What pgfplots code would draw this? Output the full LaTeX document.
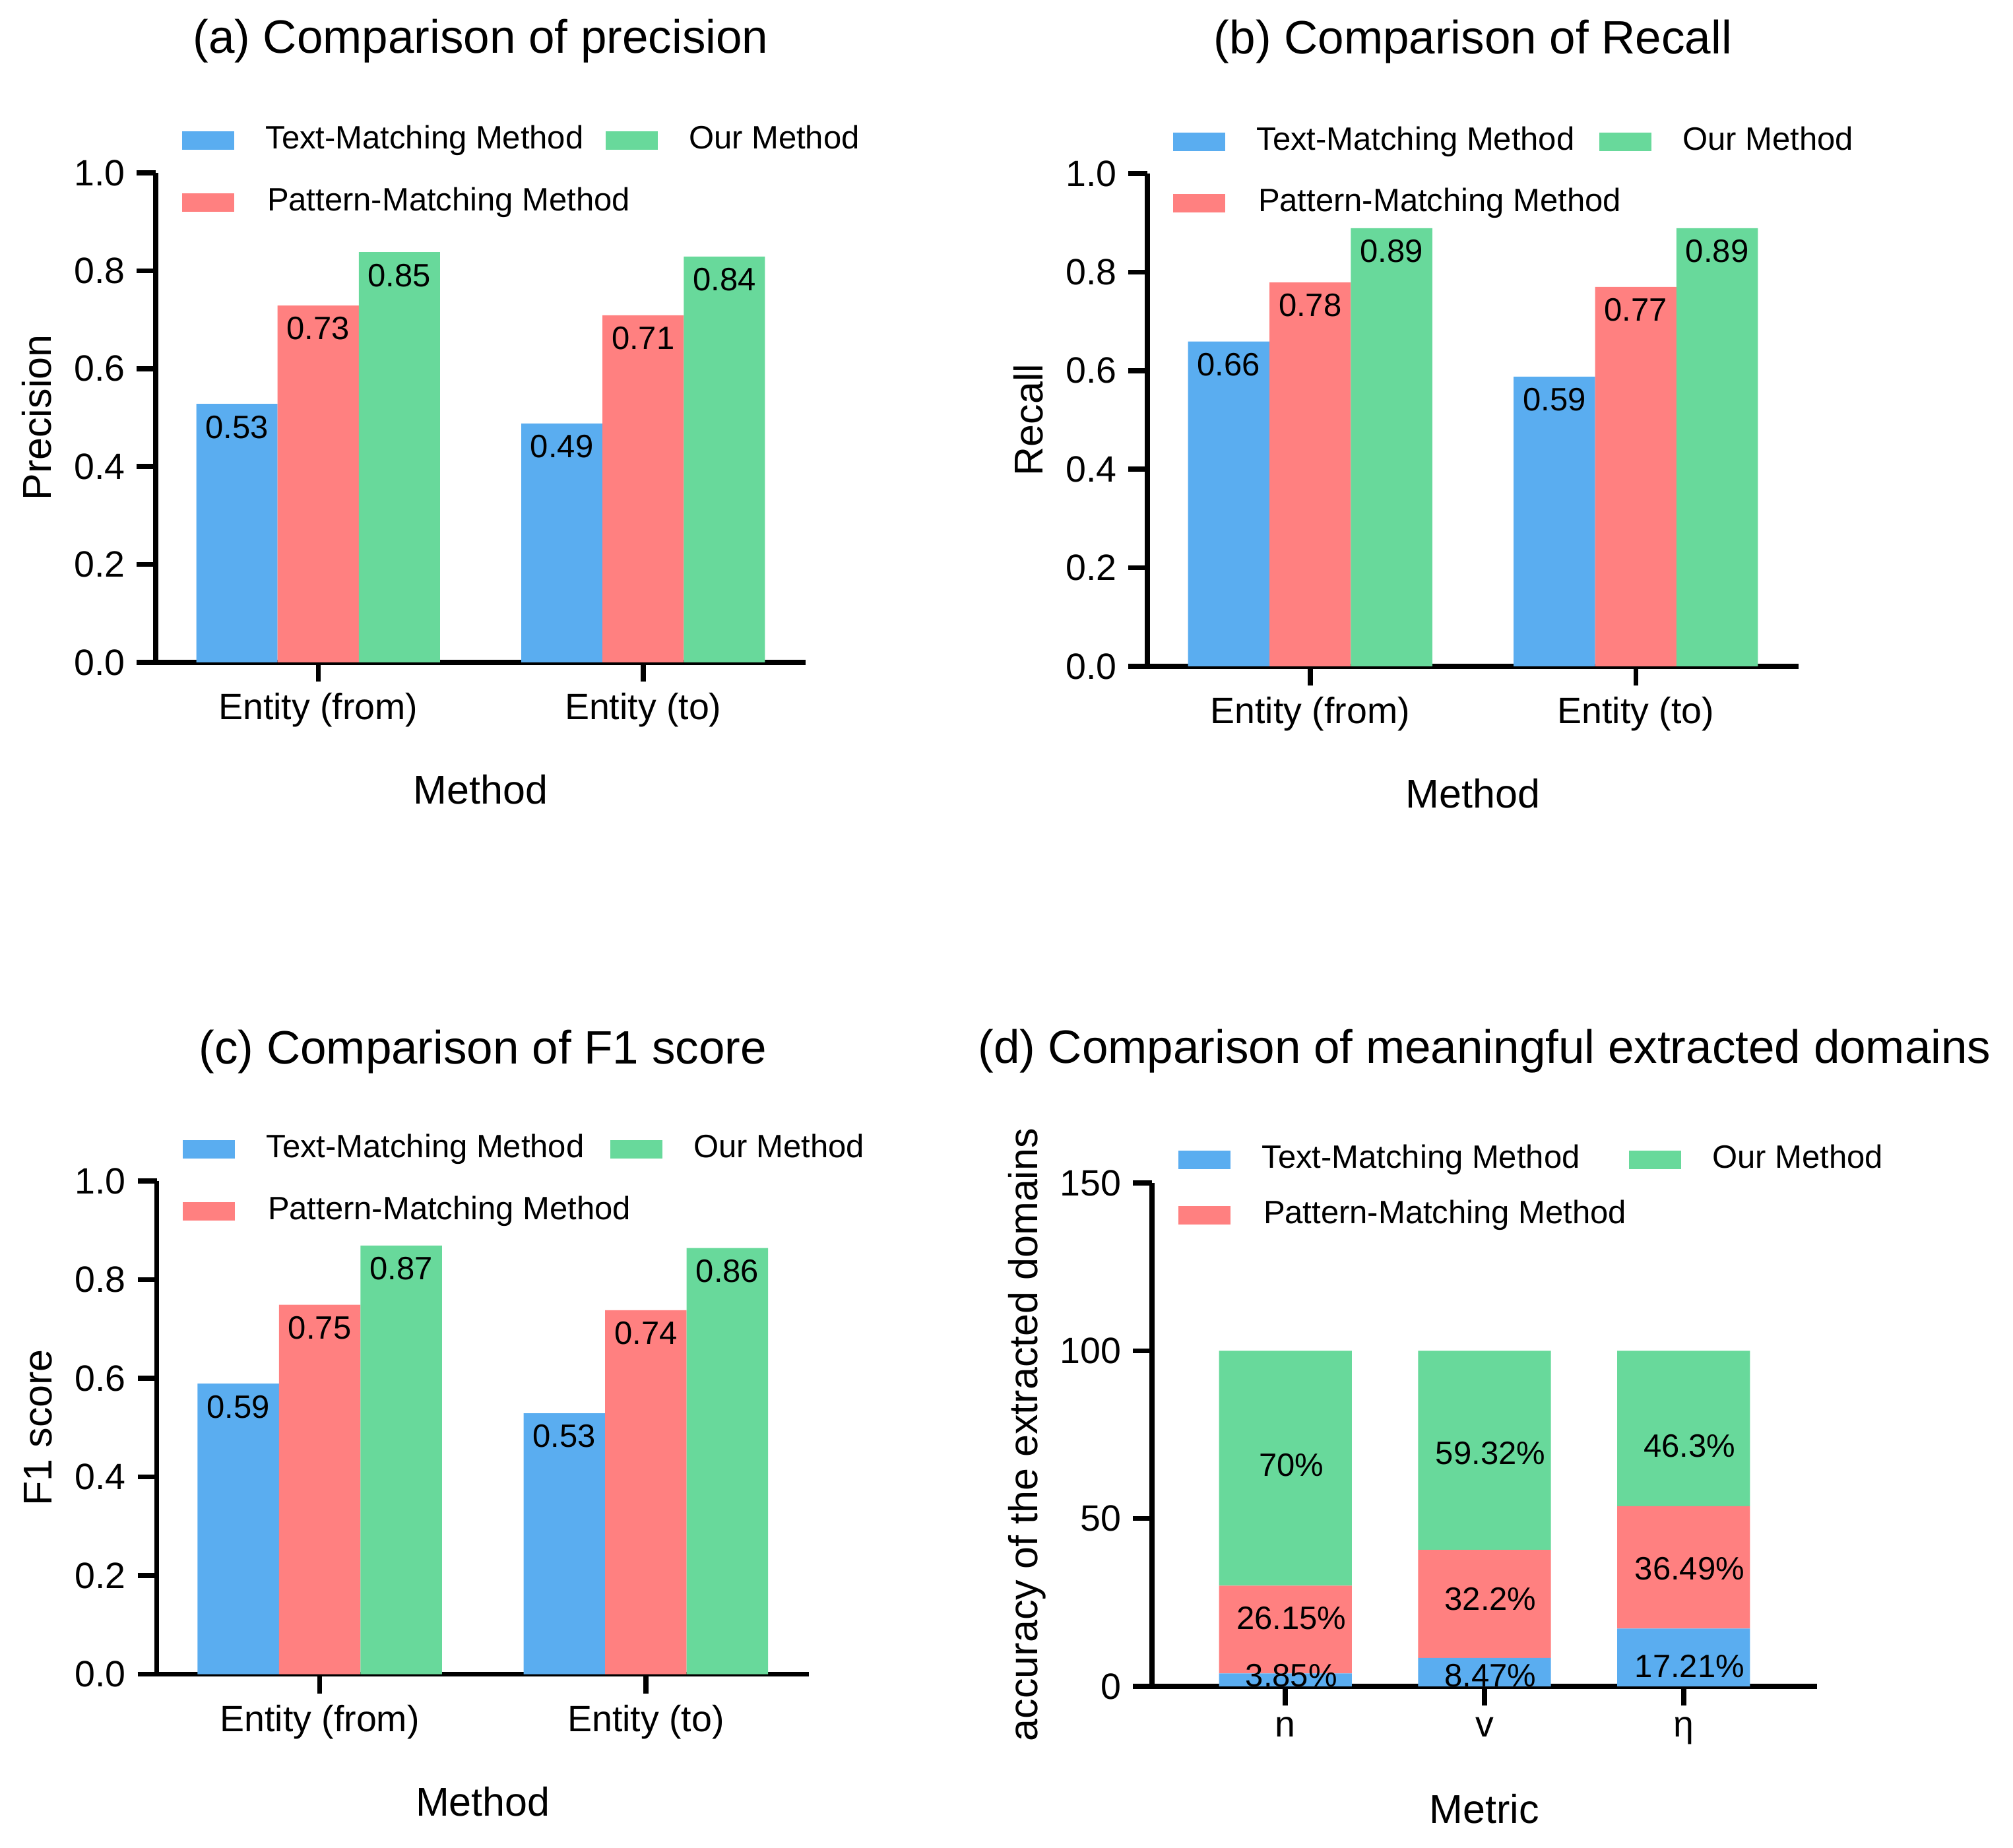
\documentclass[border=0pt]{standalone}
\usepackage{fontspec}
\setmainfont{Liberation Sans}
\usepackage{pgfplots}
\pgfplotsset{compat=1.18}
\usepackage{pgfplotstable}

\definecolor{cblue}{RGB}{90,173,240}
\definecolor{cred}{RGB}{255,128,128}
\definecolor{cgreen}{RGB}{104,217,155}

\newcommand\fA{\fontsize{14.2}{17}\selectfont}
\newcommand\fL{\fontsize{12.2}{14.6}\selectfont}
\newcommand\fT{\fontsize{11.1}{13.3}\selectfont}
\newcommand\fS{\fontsize{9.8}{11.8}\selectfont}

% bar heights as drawn, labels as printed
\pgfplotstableread{
x blue bl red rl green gl
0 0.528 0.53 0.729 0.73 0.838 0.85
1 0.488 0.49 0.709 0.71 0.829 0.84
}\precisiondata
\pgfplotstableread{
x blue bl red rl green gl
0 0.659 0.66 0.779 0.78 0.889 0.89
1 0.588 0.59 0.770 0.77 0.889 0.89
}\recalldata
\pgfplotstableread{
x blue bl red rl green gl
0 0.589 0.59 0.749 0.75 0.869 0.87
1 0.529 0.53 0.738 0.74 0.864 0.86
}\fonedata
\pgfplotstableread{
x blue red green
0 3.85 26.15 70
1 8.47 32.2 59.32
2 17.21 36.49 46.3
}\domaindata

\pgfplotsset{
  sw/.style={legend image code/.code={\fill[##1] (0pt,-2.75pt) rectangle (15.8pt,2.75pt);}},
  base/.style={
    scale only axis,
    anchor=south west,
    axis lines=left,
    axis line style={-, line width=1.5pt, black},
    x axis line style={shorten <=-5.8pt},
    every tick/.style={black, line width=1.5pt},
    major tick length=5.8pt,
    tick align=outside,
    enlargelimits=false,
    /pgf/number format/assume math mode=true,
    tick label style={font=\fT},
    legend columns=2,
    transpose legend,
    legend cell align=left,
  },
  titley/.style={every axis title/.style={font=\fA, at={(axis description cs:0.5,1)}, anchor=center, yshift=#1}},
  xlaby/.style={every axis x label/.style={font=\fL, at={(axis description cs:0.5,0)}, anchor=center, yshift=#1}},
  ylabx/.style={every axis y label/.style={font=\fL, at={(axis description cs:#1,0.5)}, rotate=90, anchor=center}},
  leg/.style n args={4}{legend style={draw=none, fill=none, inner sep=0pt, outer sep=0pt,
      at={(axis description cs:0,1)}, anchor=north west, xshift=#1, yshift=#2,
      font=\fS, row sep=#3,
      nodes={inner sep=0pt, text height=7pt, text depth=2pt},
      /tikz/every odd column/.style={column sep=9.5pt},
      /tikz/every even column/.style={column sep=#4}}},
  grouped/.style={
    ybar=0pt, bar width=0.25,
    xmin=-0.5, xmax=1.5, xtick={0,1},
    xticklabels={Entity (from), Entity (to)},
    ymin=0, ymax=1, ytick={0,0.2,0.4,0.6,0.8,1.0},
    yticklabel style={/pgf/number format/.cd, fixed, fixed zerofill, precision=1},
    nodes near coords,
    point meta=explicit symbolic,
    every node near coord/.append style={font=\fS, anchor=center, yshift=-7pt, black},
  },
}

\begin{document}
\begin{tikzpicture}
\useasboundingbox (0,0) rectangle (610.2pt,560pt);

% (a)
\begin{axis}[base, grouped, at={(47.2pt,359.2pt)}, width=197pt, height=148.4pt,
  titley=40pt, xlaby=-38.5pt, ylabx=-0.1828,
  leg={8pt}{14.3pt}{9.8pt}{6.6pt},
  title={(a) Comparison of precision}, xlabel={Method}, ylabel={Precision}]
\addplot[fill=cblue, draw=none, sw] table[x=x, y=blue, meta=bl]{\precisiondata};
\addlegendentry{Text-Matching Method}
\addplot[fill=cred, draw=none, sw] table[x=x, y=red, meta=rl]{\precisiondata};
\addlegendentry{\rlap{Pattern-Matching Method}}
\addplot[fill=cgreen, draw=none, sw] table[x=x, y=green, meta=gl]{\precisiondata};
\addlegendentry{Our Method}
\end{axis}

% (b)
\begin{axis}[base, grouped, at={(347.8pt,358pt)}, width=197.4pt, height=149.4pt,
  titley=40pt, xlaby=-38.5pt, ylabx=-0.1824,
  leg={7.8pt}{14.1pt}{9.6pt}{7.4pt},
  title={(b) Comparison of Recall}, xlabel={Method}, ylabel={Recall}]
\addplot[fill=cblue, draw=none, sw] table[x=x, y=blue, meta=bl]{\recalldata};
\addlegendentry{Text-Matching Method}
\addplot[fill=cred, draw=none, sw] table[x=x, y=red, meta=rl]{\recalldata};
\addlegendentry{\rlap{Pattern-Matching Method}}
\addplot[fill=cgreen, draw=none, sw] table[x=x, y=green, meta=gl]{\recalldata};
\addlegendentry{Our Method}
\end{axis}

% (c)
\begin{axis}[base, grouped, at={(47.5pt,52.5pt)}, width=197.7pt, height=149.5pt,
  titley=39.2pt, xlaby=-38.7pt, ylabx=-0.182,
  leg={7.9pt}{14.1pt}{9.8pt}{7.8pt},
  title={(c) Comparison of F1 score}, xlabel={Method}, ylabel={F1 score}]
\addplot[fill=cblue, draw=none, sw] table[x=x, y=blue, meta=bl]{\fonedata};
\addlegendentry{Text-Matching Method}
\addplot[fill=cred, draw=none, sw] table[x=x, y=red, meta=rl]{\fonedata};
\addlegendentry{\rlap{Pattern-Matching Method}}
\addplot[fill=cgreen, draw=none, sw] table[x=x, y=green, meta=gl]{\fonedata};
\addlegendentry{Our Method}
\end{axis}

% (d)
\begin{axis}[base, at={(349.2pt,48.8pt)}, width=201.6pt, height=152.6pt,
  ybar stacked, bar width=0.667,
  titley=40pt, xlaby=-37.2pt, ylabx=-0.1875,
  leg={8pt}{11.5pt}{7.8pt}{14.8pt},
  xmin=-0.67, xmax=2.67, xtick={0,1,2}, xticklabels={n, v, η},
  ymin=0, ymax=150, ytick={0,50,100,150},
  title={(d) Comparison of meaningful extracted domains}, xlabel={Metric},
  ylabel={accuracy of the extracted domains},
  after end axis/.code={
    \node[font=\fS, text=black] at (axis cs:0.03,3.3) {3.85\%};
    \node[font=\fS, text=black] at (axis cs:0.03,20.3) {26.15\%};
    \node[font=\fS, text=black] at (axis cs:0.03,65.9) {70\%};
    \node[font=\fS, text=black] at (axis cs:1.03,3.3) {8.47\%};
    \node[font=\fS, text=black] at (axis cs:1.03,26) {32.2\%};
    \node[font=\fS, text=black] at (axis cs:1.03,69.5) {59.32\%};
    \node[font=\fS, text=black] at (axis cs:2.03,6) {17.21\%};
    \node[font=\fS, text=black] at (axis cs:2.03,35) {36.49\%};
    \node[font=\fS, text=black] at (axis cs:2.03,71.6) {46.3\%};
  }]
\addplot[fill=cblue, draw=none, sw] table[x=x, y=blue]{\domaindata};
\addlegendentry{Text-Matching Method}
\addplot[fill=cred, draw=none, sw] table[x=x, y=red]{\domaindata};
\addlegendentry{\rlap{Pattern-Matching Method}}
\addplot[fill=cgreen, draw=none, sw] table[x=x, y=green]{\domaindata};
\addlegendentry{Our Method}
\end{axis}
\end{tikzpicture}
\end{document}
